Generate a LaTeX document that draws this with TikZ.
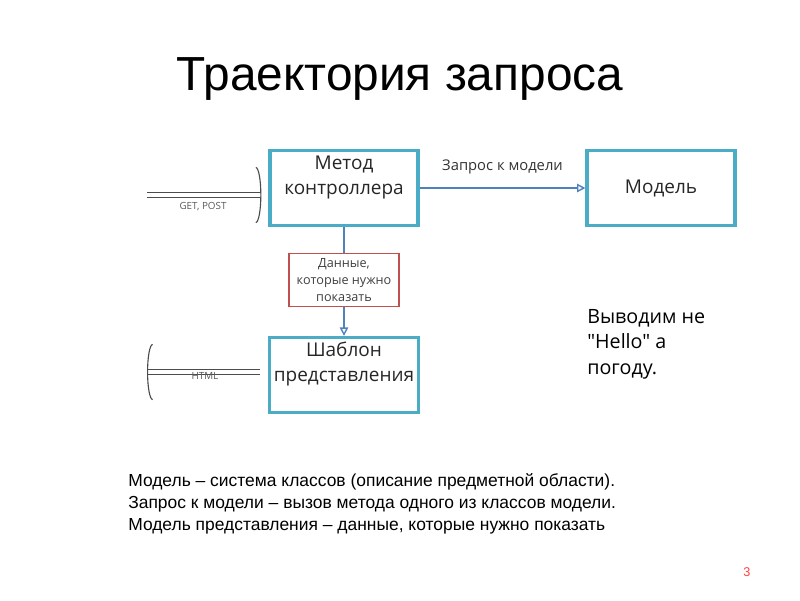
\documentclass[tikz,border=0pt]{standalone}
\usepackage{fontspec}
\setmainfont{Open Sans}[Ligatures=TeXOff]
\newfontfamily\arialfont{Liberation Sans}
\usetikzlibrary{arrows.meta,positioning,calc}
\definecolor{boxblue}{HTML}{4BACC6}
\definecolor{lineblue}{HTML}{4F81BD}
\definecolor{redline}{HTML}{C0504D}
\newcommand{\upbox}[1]{\raisebox{8pt}[\height][\depth]{\begin{tabular}{@{}c@{}}#1\end{tabular}}}

\begin{document}
\begin{tikzpicture}[x=0.025cm,y=-0.025cm,
 mainbox/.style={draw=boxblue,line width=2.2pt,minimum width=3.7cm,minimum height=1.88cm,font=\fontsize{13.5}{18}\selectfont,text=black!85},
 databox/.style={draw=redline,fill=white,line width=0.9pt,minimum width=2.75cm,minimum height=1.32cm,font=\fontsize{9}{12}\selectfont,text=black!75,align=center},
 flow/.style={draw=lineblue,line width=1pt,-{Triangle[open,length=6pt,width=6pt]}},
 io/.style={double=white,draw=gray!60!black,double distance=2.2pt,line width=0.7pt,-{Arc Barb[length=4pt,width=40pt,line width=0.8pt]}},
 small/.style={font=\fontsize{7}{8}\selectfont,text=black!65}]
\useasboundingbox (0,0) rectangle (800,600);
\node[font=\arialfont\fontsize{34}{40}\selectfont] (title) at (400,79) {Траектория запроса};
% boxes
\node[mainbox] (metod) at (344,188) {\upbox{Метод\\контроллера}};
\node[mainbox] (model) at (661,188) {Модель};
\node[mainbox] (shablon) at (344,375) {\upbox{Шаблон\\представления}};
% connectors
\draw[flow] (metod.south) -- (shablon.north);
\node[databox] (data) at (344,280) {Данные,\\которые нужно\\показать};
\draw[flow] (metod.east) -- node[above=6pt,font=\fontsize{10.5}{12}\selectfont,text=black!80] (zapros) {Запрос к модели} (model.west);
\coordinate (get) at (147,195);
\coordinate (html) at (147,372);
\draw[io,shorten >=5pt] (get) -- (get -| metod.west);
\node[small,below=1pt] (getlbl) at (203,196) {GET, POST};
\draw[io] (shablon.west |- html) ++(-8,0) coordinate (htmlstart) -- (html);
\node[small] (htmllbl) at (205,376) {HTML};
% notes
\node[anchor=north west,inner sep=0pt,align=left,font=\fontsize{14}{18.2}\selectfont] (note) at (587,309) {Выводим не\\"Hello" а\\погоду.};
\node[anchor=north west,inner sep=0pt,align=left,font=\arialfont\fontsize{12.4}{15.8}\selectfont] (legend) at (128,473) {Модель – система классов (описание предметной области).\\Запрос к модели – вызов метода одного из классов модели.\\Модель представления – данные, которые нужно показать};
\node[font=\arialfont\fontsize{9}{10}\selectfont,text=red!75] (page) at (747,572) {3};
\end{tikzpicture}
\end{document}
